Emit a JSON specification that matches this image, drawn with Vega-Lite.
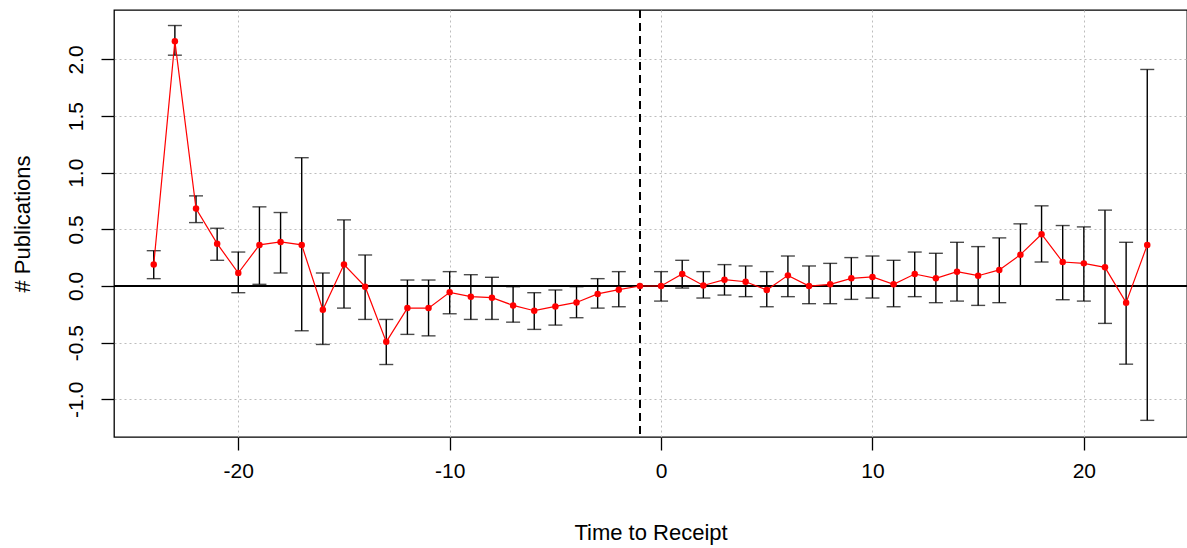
{
  "$schema": "https://vega.github.io/schema/vega-lite/v6.json",
  "width": 1073,
  "height": 427,
  "autosize": "none",
  "padding": {"left": 114, "top": 10, "right": 0, "bottom": 111},
  "background": "white",
  "config": {
    "font": "Liberation Sans",
    "view": {"stroke": "black", "strokeWidth": 1.3},
    "axis": {
      "labelFont": "Liberation Sans",
      "titleFont": "Liberation Sans",
      "labelFontSize": 21,
      "titleFontSize": 22,
      "titleFontWeight": "normal",
      "labelColor": "black",
      "titleColor": "black",
      "tickColor": "black",
      "tickWidth": 1.3,
      "tickSize": 13,
      "domain": false,
      "gridColor": "#bdbdbd",
      "gridDash": [2, 3],
      "gridWidth": 1
    }
  },
  "data": {
    "values": [
      {"t": -24, "est": 0.19, "lo": 0.065, "hi": 0.312},
      {"t": -23, "est": 2.162, "lo": 2.038, "hi": 2.30},
      {"t": -22, "est": 0.684, "lo": 0.56, "hi": 0.796},
      {"t": -21, "est": 0.374, "lo": 0.227, "hi": 0.51},
      {"t": -20, "est": 0.115, "lo": -0.059, "hi": 0.30},
      {"t": -19, "est": 0.363, "lo": 0.015, "hi": 0.699},
      {"t": -18, "est": 0.389, "lo": 0.115, "hi": 0.649},
      {"t": -17, "est": 0.363, "lo": -0.395, "hi": 1.133},
      {"t": -16, "est": -0.21, "lo": -0.516, "hi": 0.115},
      {"t": -15, "est": 0.189, "lo": -0.195, "hi": 0.584},
      {"t": -14, "est": -0.006, "lo": -0.295, "hi": 0.274},
      {"t": -13, "est": -0.493, "lo": -0.693, "hi": -0.295},
      {"t": -12, "est": -0.195, "lo": -0.427, "hi": 0.053},
      {"t": -11, "est": -0.195, "lo": -0.44, "hi": 0.053},
      {"t": -10, "est": -0.056, "lo": -0.245, "hi": 0.127},
      {"t": -9, "est": -0.094, "lo": -0.295, "hi": 0.10},
      {"t": -8, "est": -0.103, "lo": -0.295, "hi": 0.077},
      {"t": -7, "est": -0.171, "lo": -0.319, "hi": -0.006},
      {"t": -6, "est": -0.218, "lo": -0.383, "hi": -0.059},
      {"t": -5, "est": -0.18, "lo": -0.345, "hi": -0.035},
      {"t": -4, "est": -0.145, "lo": -0.28, "hi": -0.006},
      {"t": -3, "est": -0.07, "lo": -0.195, "hi": 0.065},
      {"t": -2, "est": -0.032, "lo": -0.183, "hi": 0.127},
      {"t": -1, "est": 0.0, "lo": null, "hi": null},
      {"t": 0, "est": 0.0, "lo": -0.133, "hi": 0.127},
      {"t": 1, "est": 0.106, "lo": -0.018, "hi": 0.227},
      {"t": 2, "est": 0.005, "lo": -0.106, "hi": 0.127},
      {"t": 3, "est": 0.056, "lo": -0.08, "hi": 0.189},
      {"t": 4, "est": 0.038, "lo": -0.094, "hi": 0.177},
      {"t": 5, "est": -0.035, "lo": -0.183, "hi": 0.127},
      {"t": 6, "est": 0.094, "lo": -0.094, "hi": 0.265},
      {"t": 7, "est": 0.0, "lo": -0.156, "hi": 0.177},
      {"t": 8, "est": 0.015, "lo": -0.156, "hi": 0.2},
      {"t": 9, "est": 0.068, "lo": -0.118, "hi": 0.251},
      {"t": 10, "est": 0.08, "lo": -0.106, "hi": 0.265},
      {"t": 11, "est": 0.015, "lo": -0.183, "hi": 0.227},
      {"t": 12, "est": 0.106, "lo": -0.094, "hi": 0.30},
      {"t": 13, "est": 0.068, "lo": -0.147, "hi": 0.289},
      {"t": 14, "est": 0.127, "lo": -0.133, "hi": 0.386},
      {"t": 15, "est": 0.091, "lo": -0.171, "hi": 0.348},
      {"t": 16, "est": 0.142, "lo": -0.147, "hi": 0.425},
      {"t": 17, "est": 0.277, "lo": 0.0, "hi": 0.549},
      {"t": 18, "est": 0.457, "lo": 0.212, "hi": 0.708},
      {"t": 19, "est": 0.212, "lo": -0.121, "hi": 0.534},
      {"t": 20, "est": 0.2, "lo": -0.133, "hi": 0.522},
      {"t": 21, "est": 0.165, "lo": -0.33, "hi": 0.67},
      {"t": 22, "est": -0.147, "lo": -0.69, "hi": 0.386},
      {"t": 23, "est": 0.363, "lo": -1.186, "hi": 1.912}
    ]
  },
  "encoding": {
    "x": {
      "field": "t",
      "type": "quantitative",
      "scale": {"domain": [-25.88, 24.88], "nice": false, "zero": false},
      "axis": {
        "values": [-20, -10, 0, 10, 20],
        "labelExpr": "replace(datum.label, '\u2212', '-')",
        "title": "Time to Receipt",
        "grid": true,
        "labelPadding": 10,
        "titleBaseline": "alphabetic",
        "titleY": 102,
        "titleX": 536.5
      }
    }
  },
  "layer": [
    {
      "mark": {"type": "rule", "color": "black", "strokeWidth": 1.3},
      "encoding": {
        "x": null,
        "y": {
          "datum": 0,
          "type": "quantitative",
          "scale": {"domain": [-1.333, 2.437], "nice": false, "zero": false},
          "axis": {
            "values": [-1, -0.5, 0, 0.5, 1, 1.5, 2],
            "format": ".1f",
            "labelExpr": "replace(datum.label, '\u2212', '-')",
            "title": "# Publications",
            "grid": true,
            "labelAngle": -90,
            "labelAlign": "center",
            "labelBaseline": "alphabetic",
            "labelPadding": 19,
            "titleAngle": -90,
            "titleAlign": "center",
            "titleBaseline": "middle",
            "titleX": -92,
            "titleY": 213.5
          }
        }
      }
    },
    {
      "mark": {"type": "rule", "color": "black", "strokeWidth": 1.3, "strokeDash": [8, 5]},
      "encoding": {
        "x": {"datum": -1, "type": "quantitative"}
      }
    },
    {
      "transform": [{"filter": "datum.lo != null"}],
      "mark": {"type": "rule", "color": "black", "strokeWidth": 1.4},
      "encoding": {
        "y": {"field": "lo", "type": "quantitative"},
        "y2": {"field": "hi"}
      }
    },
    {
      "transform": [{"filter": "datum.lo != null"}],
      "mark": {"type": "tick", "color": "black", "orient": "horizontal", "size": 14, "thickness": 1.4},
      "encoding": {
        "y": {"field": "lo", "type": "quantitative"}
      }
    },
    {
      "transform": [{"filter": "datum.hi != null"}],
      "mark": {"type": "tick", "color": "black", "orient": "horizontal", "size": 14, "thickness": 1.4},
      "encoding": {
        "y": {"field": "hi", "type": "quantitative"}
      }
    },
    {
      "mark": {"type": "line", "color": "#FF0000", "strokeWidth": 1.2},
      "encoding": {
        "y": {"field": "est", "type": "quantitative"}
      }
    },
    {
      "mark": {"type": "circle", "color": "#FF0000", "opacity": 1, "size": 42},
      "encoding": {
        "y": {"field": "est", "type": "quantitative"}
      }
    }
  ]
}
